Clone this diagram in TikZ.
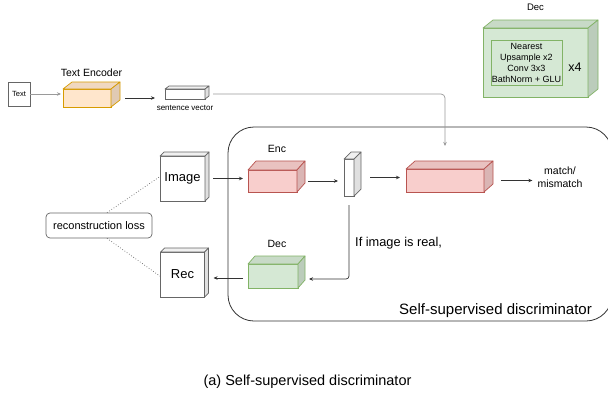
\documentclass[tikz,border=0pt]{standalone}
\usepackage{fontspec}
\setmainfont{Liberation Sans}
\usetikzlibrary{calc,arrows.meta}
\definecolor{orF}{HTML}{FFE6CC}
\definecolor{orS}{HTML}{D79B00}
\definecolor{pkF}{HTML}{F8CECC}
\definecolor{pkS}{HTML}{B85450}
\definecolor{grF}{HTML}{D5E8D4}
\definecolor{grS}{HTML}{82B366}
\definecolor{gyS}{HTML}{666666}
\definecolor{lnC}{HTML}{333333}
\definecolor{lnL}{HTML}{9A9A9A}
\newcommand\cubeback[5]{%
  \filldraw[draw=#5, line width=0.7pt, line join=round, fill=#4!94!black] (#1.north west) -- ++(#2,-#3) -- ($(#1.north east)+(#2,-#3)$) -- (#1.north east) -- cycle;
  \filldraw[draw=#5, line width=0.7pt, line join=round, fill=#4!88!black] (#1.north east) -- ++(#2,-#3) -- ($(#1.south east)+(#2,-#3)$) -- (#1.south east) -- cycle;
}
\begin{document}
\begin{tikzpicture}[x=1pt,y=-1pt,
  face/.style={rectangle, draw, outer sep=0pt, inner sep=0pt, line width=0.7pt},
  arr/.style={draw=lnC, line width=0.7pt, -{Stealth[length=4pt,width=3.5pt]}},
  arrl/.style={arr, draw=lnL},
  lbl/.style={inner sep=0pt, align=center, text=black},
  fs/.style={font=\fontsize{#1}{13}\selectfont}
]
\useasboundingbox (0,0) rectangle (608,402);
\fill[white] (0,0) rectangle (608,402);

% container
\node[rectangle, draw=lnC, line width=0.8pt, rounded corners=26pt, minimum width=384pt, minimum height=194pt] (disc) at (420,224) {};
\node[lbl, fs=15, anchor=east] (disclbl) at (592,311) {Self-supervised discriminator};

% text input
\node[face, draw=gyS, fill=white, minimum width=22pt, minimum height=24pt, fs=7.5] (txt) at (19,94) {Text};

% text encoder
\node[face, draw=orS, fill=orF, minimum width=48pt, minimum height=18pt] (tenc) at (87,98) {};
\cubeback{tenc}{9}{7}{orF}{orS}
\node[lbl, fs=10.5] (tenclbl) at (91.5,73) {Text Encoder};

% sentence vector
\node[face, draw=gyS, fill=white, minimum width=40pt, minimum height=10pt] (sv) at (185,94) {};
\cubeback{sv}{4}{3}{white}{gyS}
\node[lbl, fs=8] (svlbl) at (185,108) {sentence vector};

% image / rec
\node[face, draw=gyS, fill=white, minimum width=45pt, minimum height=45pt, fs=13] (img) at (182.5,178.5) {Image};
\cubeback{img}{4}{4}{white}{gyS}
\node[face, draw=gyS, fill=white, minimum width=44pt, minimum height=45pt, fs=13] (rec) at (182.5,274.5) {Rec};
\cubeback{rec}{4}{4}{white}{gyS}

% reconstruction loss
\node[rectangle, draw=gyS, line width=0.7pt, rounded corners=4pt, fill=white, minimum width=106pt, minimum height=25pt, fs=11] (loss) at (99,225.5) {reconstruction loss};

% encoder
\node[face, draw=pkS, fill=pkF, minimum width=49pt, minimum height=22pt] (enc) at (272.5,181) {};
\cubeback{enc}{8}{9}{pkF}{pkS}
\node[lbl, fs=10.5] (enclbl) at (277,149) {Enc};

% thin vector
\node[face, draw=gyS, fill=white, minimum width=10pt, minimum height=37pt] (thin) at (349,177.5) {};
\cubeback{thin}{7}{7}{white}{gyS}

% big pink
\node[face, draw=pkS, fill=pkF, minimum width=78pt, minimum height=23pt] (big) at (445,180.5) {};
\cubeback{big}{9}{8}{pkF}{pkS}

\node[lbl, fs=10.5] (match) at (560,177) {match/\\mismatch};

% decoder
\node[face, draw=grS, fill=grF, minimum width=50pt, minimum height=24pt] (dec) at (273,276) {};
\cubeback{dec}{7}{8}{grF}{grS}
\node[lbl, fs=10.5] (declbl) at (277,243.5) {Dec};

\node[lbl, fs=12.8, anchor=west] (real) at (355,243) {If image is real,};

% top-right Dec panel
\node[face, draw=grS, fill=grF, minimum width=105pt, minimum height=69pt] (pdec) at (535.5,62.5) {};
\cubeback{pdec}{10}{8}{grF}{grS}
\node[face, draw=grS, fill=grF, minimum width=71pt, minimum height=45pt, align=center, font=\fontsize{9}{11}\selectfont] (inner) at (526.5,62.5) {Nearest\\Upsample x2\\Conv 3x3\\BathNorm + GLU};
\node[lbl, fs=12.5] (x4) at (575,67) {x4};
\node[lbl, fs=9.5] (pdeclbl) at (535.5,7.5) {Dec};

% caption
\node[lbl, fs=14.5] (cap) at (307.5,382) {(a) Self-supervised discriminator};

% connectors
\draw[arrl, shorten >=2pt] (txt) -- (txt -| tenc.west);
\draw[arr, shorten <=5pt, shorten >=10pt] ($(tenc.east)+(9,0)$) -- (sv.west |- tenc.west);
\draw[arrl, rounded corners=4pt, shorten <=8pt, shorten >=23pt] (sv.east) -| (big.north);
\draw[arr, shorten <=8pt, shorten >=5pt] (img) -- (img -| enc.west);
\draw[arr, shorten <=11pt, shorten >=6pt] (enc) -- (enc -| thin.west);
\draw[arr, shorten <=16pt, shorten >=6pt] (thin) -- (thin -| big.west);
\draw[arr, shorten <=17pt, shorten >=5pt] (big) -- (big -| match.west);
\draw[arr, rounded corners=3pt, shorten <=9pt, shorten >=11pt] (thin.south) |- ([yshift=-3pt]dec.east);
\draw[arr, shorten <=5pt, shorten >=9pt] ([yshift=-2pt]dec.west) -- ([yshift=-2pt]dec.west -| rec.east);
\draw[gyS, dotted, line width=0.7pt] ([xshift=8pt]loss.north) -- ([yshift=2pt]img.west);
\draw[gyS, dotted, line width=0.7pt] ([xshift=8pt]loss.south) -- ([yshift=-2pt]rec.west);
\end{tikzpicture}
\end{document}
